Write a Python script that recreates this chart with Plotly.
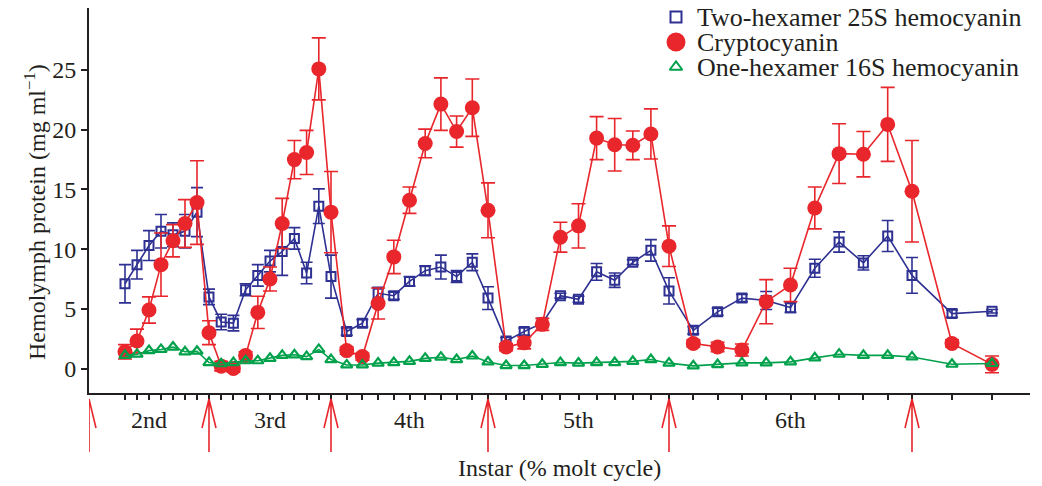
import plotly.graph_objects as go

# ---------------- data ----------------
instar_labels = ["2nd", "3rd", "4th", "5th", "6th", "7th"]
instar_span = [120, 122, 157, 181, 243, 400]   # relative length of each instar on the axis

# each sample: instar index and % of molt cycle
point_instar = [0] * 8 + [1] * 10 + [2] * 10 + [3] * 10 + [4] * 10 + [5] * 2
point_pct = ([30, 40, 50, 60, 70, 80, 90, 100]
             + [10, 20, 30, 40, 50, 60, 70, 80, 90, 100] * 4
             + [10, 20])

two_hex = [7.1, 8.7, 10.3, 11.5, 11.2, 11.5, 13.1, 6.0,
           3.9, 3.8, 6.6, 7.8, 9.0, 9.8, 10.9, 8.0, 13.6, 7.7,
           3.1, 3.8, 6.3, 6.1, 7.3, 8.2, 8.5, 7.7, 8.9, 5.9,
           2.3, 3.1, 3.8, 6.1, 5.8, 8.1, 7.4, 8.9, 9.9, 6.5,
           3.2, 4.75, 5.9, 5.7, 5.1, 8.4, 10.6, 8.85, 11.1, 7.8,
           4.6, 4.8]
two_hex_err = [1.6, 1.2, 1.25, 1.4, 1.0, 1.4, 2.05, 0.65,
               0.65, 0.65, 0.5, 0.9, 0.9, 2.0, 0.9, 0.9, 1.45, 1.8,
               0.3, 0.3, 0.5, 0.3, 0.4, 0.4, 1.0, 0.5, 0.7, 0.95,
               0.3, 0.3, 0.4, 0.2, 0.25, 0.7, 0.6, 0.2, 0.9, 1.1,
               0.3, 0.3, 0.3, 0.75, 0.4, 0.75, 0.85, 0.6, 1.3, 1.5,
               0.3, 0.15]

crypto = [1.4, 2.3, 4.9, 8.7, 10.7, 12.15, 13.9, 3.0,
          0.2, 0.0, 1.1, 4.7, 7.5, 12.15, 17.5, 18.1, 25.1, 13.1,
          1.5, 1.0, 5.45, 9.35, 14.1, 18.85, 22.15, 19.85, 21.85, 13.25,
          1.8, 2.15, 3.7, 11.0, 11.95, 19.3, 18.75, 18.7, 19.65, 10.25,
          2.1, 1.8, 1.55, 5.6, 7.0, 13.45, 18.0, 17.95, 20.45, 14.85,
          2.1, 0.35]
crypto_err = [0.6, 1.0, 1.1, 2.65, 1.35, 2.0, 3.5, 1.0,
              0.4, 0.3, 0.3, 1.35, 1.0, 2.1, 1.6, 1.85, 2.6, 3.4,
              0.3, 0.3, 1.3, 1.4, 1.1, 1.2, 2.2, 1.3, 2.4, 2.3,
              0.3, 0.5, 0.5, 1.25, 1.85, 1.8, 2.2, 1.2, 2.1, 1.7,
              0.3, 0.4, 0.5, 1.85, 1.4, 1.75, 2.5, 1.9, 3.1, 4.25,
              0.3, 0.7]

one_hex = [1.1, 1.2, 1.5, 1.6, 1.8, 1.4, 1.45, 0.5,
           0.4, 0.5, 0.65, 0.65, 0.85, 1.1, 1.15, 1.0, 1.6, 0.75,
           0.3, 0.3, 0.45, 0.5, 0.6, 0.85, 0.95, 0.75, 1.05, 0.55,
           0.25, 0.25, 0.35, 0.5, 0.45, 0.5, 0.5, 0.6, 0.75, 0.45,
           0.22, 0.33, 0.47, 0.47, 0.56, 0.89, 1.2, 1.1, 1.1, 0.97,
           0.36, 0.42]

series_names = ["Two-hexamer 25S hemocyanin", "Cryptocyanin", "One-hexamer 16S hemocyanin"]
y_ticks = [0, 5, 10, 15, 20, 25]

# ---------------- derived positions ----------------
instar_start = [sum(instar_span[:i]) for i in range(len(instar_span))]
xs = [instar_start[i] + instar_span[i] * p / 100 for i, p in zip(point_instar, point_pct)]

BLUE = "#2E3192"
RED = "#E8262B"
GREEN = "#00A14B"
INK = "#231F20"
FONT = "Liberation Serif"
FS = 24

# page layout (the page body adds an 8px margin around the figure)
BODY = 8
PLOT_L, PLOT_R, PLOT_T, PLOT_B = 89, 1030, 8, 393      # plot area in page pixels
W, H = 1042 - BODY, 486 - BODY
PW, PH = PLOT_R - PLOT_L, PLOT_B - PLOT_T
def px2paper(px):
    return (px - PLOT_L) / PW
def py2paper(py):
    return (PLOT_B - py) / PH

fig = go.Figure()

fig.add_trace(go.Scatter(
    x=xs, y=two_hex, mode="lines+markers", showlegend=False,
    line=dict(color=BLUE, width=1.6),
    marker=dict(symbol="square-open", size=9, color=BLUE, line=dict(width=2, color=BLUE)),
    error_y=dict(type="data", array=two_hex_err, color=BLUE, thickness=1.6, width=6),
))
fig.add_trace(go.Scatter(
    x=xs, y=crypto, mode="lines+markers", showlegend=False,
    line=dict(color=RED, width=1.6),
    marker=dict(symbol="circle", size=15, color=RED),
    error_y=dict(type="data", array=crypto_err, color=RED, thickness=1.6, width=7),
))
fig.add_trace(go.Scatter(
    x=xs, y=one_hex, mode="lines+markers", showlegend=False,
    line=dict(color=GREEN, width=1.6),
    marker=dict(symbol="triangle-up-open", size=10, color=GREEN, line=dict(width=2.2, color=GREEN)),
))

# custom legend (markers on an overlay axis in paper-like units, labels as annotations)
leg_rows_py = [17, 42, 67]
leg_marker_px = 676
leg_text_px = 695
fig.add_trace(go.Scatter(
    x=[px2paper(leg_marker_px)] * 3, y=[py2paper(p) for p in leg_rows_py],
    xaxis="x2", yaxis="y2", mode="markers", showlegend=False, hoverinfo="skip",
    marker=dict(symbol=["square-open", "circle", "triangle-up-open"], size=[11, 17, 11],
                opacity=1, color=[BLUE, RED, GREEN], line=dict(width=2, color=[BLUE, RED, GREEN])),
))

annotations = []
for name, p in zip(series_names, leg_rows_py):
    annotations.append(dict(
        x=px2paper(leg_text_px), xref="paper", y=py2paper(p), yref="paper",
        text=name, showarrow=False, xanchor="left", yanchor="middle",
        font=dict(family=FONT, size=26, color=INK),
    ))

# molt arrows
shapes = []
for xm in instar_start:
    yt = py2paper(399)
    yb = py2paper(452)
    ya = py2paper(428)
    shapes.append(dict(
        type="path", xref="x", yref="paper",
        path=f"M {xm},{yb} L {xm},{yt} M {xm-7},{ya} L {xm},{yt} L {xm+7},{ya}",
        line=dict(color=RED, width=1.6),
    ))

for i, lab in enumerate(instar_labels[:5]):
    annotations.append(dict(
        x=instar_start[i] + instar_span[i] / 2, xref="x",
        y=py2paper(420), yref="paper", text=lab, showarrow=False,
        font=dict(family=FONT, size=FS, color=INK), yanchor="middle",
    ))
annotations.append(dict(
    x=0.5, xref="paper", y=py2paper(468), yref="paper",
    text="Instar (% molt cycle)", showarrow=False,
    font=dict(family=FONT, size=FS, color=INK), yanchor="middle",
))
annotations.append(dict(
    x=px2paper(35), xref="paper", y=py2paper(212), yref="paper",
    text="Hemolymph protein (mg ml<sup>\u22121</sup>)", textangle=-90, showarrow=False,
    font=dict(family=FONT, size=FS, color=INK), xanchor="center", yanchor="middle",
))

fig.update_layout(
    width=W, height=H,
    margin=dict(l=PLOT_L - BODY, r=1042 - PLOT_R, t=PLOT_T - BODY, b=486 - PLOT_B),
    paper_bgcolor="white", plot_bgcolor="white",
    font=dict(family=FONT, size=FS, color=INK),
    showlegend=False,
    shapes=shapes,
    annotations=annotations,
    xaxis=dict(range=[0, sum(instar_span[:5]) + 118], showgrid=False, zeroline=False,
               showline=True, linecolor=INK, linewidth=1.8,
               ticks="outside", tickvals=xs, ticklen=5, tickwidth=1.5, tickcolor=INK,
               showticklabels=False),
    yaxis=dict(range=[-2.05, 30.2], showgrid=False, zeroline=False,
               showline=True, linecolor=INK, linewidth=1.8,
               ticks="outside", tickvals=y_ticks, ticklen=6, tickwidth=1.5, tickcolor=INK,
               tickfont=dict(family=FONT, size=FS, color=INK)),
    xaxis2=dict(overlaying="x", range=[0, 1], visible=False, fixedrange=True),
    yaxis2=dict(overlaying="y", range=[0, 1], visible=False, fixedrange=True),
)

fig.write_html("out.html")
